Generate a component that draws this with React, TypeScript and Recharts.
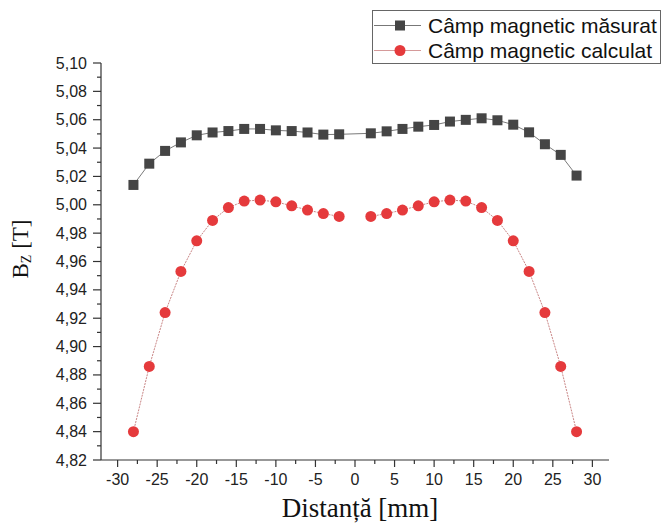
import React from 'react';
import { LineChart, Line, XAxis, YAxis, Legend } from 'recharts';

// distance along the axis, mm (no reading at 0)
const distances = [-28, -26, -24, -22, -20, -18, -16, -14, -12, -10, -8, -6, -4, -2, 2, 4, 6, 8, 10, 12, 14, 16, 18, 20, 22, 24, 26, 28];

// Bz, T
const measured = [
  5.014, 5.029, 5.038, 5.044, 5.049, 5.051, 5.052, 5.0535, 5.0535, 5.0525, 5.052, 5.051, 5.0495, 5.0497,
  5.0504, 5.0518, 5.0535, 5.0551, 5.0563, 5.0587, 5.0599, 5.061, 5.0596, 5.0565, 5.0511, 5.0427, 5.0352, 5.0206,
];
const calculated = [
  4.840, 4.886, 4.924, 4.953, 4.9746, 4.989, 4.998, 5.0026, 5.0033, 5.0021, 4.9993, 4.9963, 4.9938, 4.9918,
  4.9918, 4.9938, 4.9963, 4.9993, 5.0021, 5.0033, 5.0026, 4.998, 4.989, 4.9746, 4.953, 4.924, 4.886, 4.840,
];

const xMajor = [-30, -25, -20, -15, -10, -5, 0, 5, 10, 15, 20, 25, 30];
const yMajor = [4.82, 4.84, 4.86, 4.88, 4.9, 4.92, 4.94, 4.96, 4.98, 5.0, 5.02, 5.04, 5.06, 5.08, 5.1];

const withMinors = (major: number[]) => {
  const out: number[] = [];
  major.forEach((v, i) => {
    out.push(v);
    if (i < major.length - 1) out.push((v + major[i + 1]) / 2);
  });
  return out;
};
const xTicks = withMinors(xMajor);
const yTicks = withMinors(yMajor);

const isMajor = (list: number[], v: number) => list.some((m) => Math.abs(m - v) < 1e-6);

const measuredData = distances.map((d, i) => ({ x: d, y: measured[i] }));
// break the calculated curve across the centre
const calculatedData = [
  ...distances.filter((d) => d < 0).map((d) => ({ x: d, y: calculated[distances.indexOf(d)] })),
  { x: 0, y: null },
  ...distances.filter((d) => d > 0).map((d) => ({ x: d, y: calculated[distances.indexOf(d)] })),
];

const sans = '"Liberation Sans", Arial, sans-serif';
const serif = '"Liberation Serif", "Times New Roman", serif';
const AXIS = '#333';

const YTick = (props: any) => {
  const { x, y, payload } = props;
  const major = isMajor(yMajor, payload.value);
  return (
    <g>
      <line x1={x - (major ? 8 : 4)} x2={x} y1={y} y2={y} stroke={AXIS} strokeWidth={1.2} />
      {major && (
        <text x={x - 14} y={y + 5.5} textAnchor="end" fontFamily={sans} fontSize={16} fill="#222">
          {payload.value.toFixed(2).replace('.', ',')}
        </text>
      )}
    </g>
  );
};

const XTick = (props: any) => {
  const { x, y, payload } = props;
  const major = isMajor(xMajor, payload.value);
  return (
    <g>
      <line x1={x} x2={x} y1={y} y2={y + (major ? 7 : 4)} stroke={AXIS} strokeWidth={1.2} />
      {major && (
        <text x={x} y={y + 25} textAnchor="middle" fontFamily={sans} fontSize={16} fill="#222">
          {payload.value}
        </text>
      )}
    </g>
  );
};

const Square = (props: any) => {
  const { cx, cy, index } = props;
  if (cx == null || cy == null) return <g key={`sq-${index}`} />;
  return <rect key={`sq-${index}`} x={cx - 5} y={cy - 5} width={10} height={10} fill="#454545" />;
};

const Dot = (props: any) => {
  const { cx, cy, index } = props;
  if (cx == null || cy == null) return <g key={`dt-${index}`} />;
  return <circle key={`dt-${index}`} cx={cx} cy={cy} r={5.5} fill="#e53a3c" />;
};

const LegendBox = () => (
  <div
    style={{
      border: '1px solid #666',
      background: '#fff',
      width: 289,
      height: 54,
      boxSizing: 'border-box',
      paddingTop: 2,
      fontFamily: sans,
      fontSize: 21,
      color: '#111',
    }}
  >
    {[
      { label: 'Câmp magnetic măsurat', line: '#777', marker: <rect x={22} y={7.5} width={10} height={10} fill="#454545" /> },
      { label: 'Câmp magnetic calculat', line: '#d59a9a', marker: <circle cx={27} cy={12.5} r={5.5} fill="#e53a3c" /> },
    ].map((row) => (
      <div key={row.label} style={{ display: 'flex', alignItems: 'center', height: 25, lineHeight: '25px' }}>
        <svg width={55} height={25} style={{ flex: 'none' }}>
          <line x1={1} x2={48} y1={12.5} y2={12.5} stroke={row.line} strokeWidth={1} />
          {row.marker}
        </svg>
        <span style={{ whiteSpace: 'nowrap' }}>{row.label}</span>
      </div>
    ))}
  </div>
);

export default function App() {
  return (
    <div style={{ position: 'absolute', left: 0, top: 0, width: 662, height: 525, background: '#fff' }}>
      <LineChart width={662} height={525} margin={{ top: 63, right: 53, bottom: 0, left: 0 }}>
        <XAxis
          type="number"
          dataKey="x"
          domain={[-32.1, 32.1]}
          ticks={xTicks}
          interval={0}
          allowDataOverflow
          height={65}
          tickSize={0}
          tickMargin={0}
          tickLine={false}
          axisLine={{ stroke: AXIS, strokeWidth: 1.2 }}
          tick={<XTick />}
          label={{
            content: () => (
              <text x={360} y={517} textAnchor="middle" fontFamily={serif} fontSize={27} fill="#111">
                Distanță [mm]
              </text>
            ),
          }}
        />
        <YAxis
          type="number"
          domain={[4.82, 5.1]}
          ticks={yTicks}
          interval={0}
          allowDataOverflow
          width={101}
          tickSize={0}
          tickMargin={0}
          tickLine={false}
          axisLine={{ stroke: AXIS, strokeWidth: 1.2 }}
          tick={<YTick />}
          label={{
            content: () => (
              <text transform="translate(28,249) rotate(-90)" textAnchor="middle" fontFamily={serif} fontSize={23} fill="#111">
                B<tspan fontSize={14} dy={3}>Z</tspan>
                <tspan dy={-3}> [T]</tspan>
              </text>
            ),
          }}
        />
        <Legend
          layout="vertical"
          align="center"
          verticalAlign="middle"
          content={<LegendBox />}
          wrapperStyle={{ left: 372, top: 10, width: 289, height: 54 }}
        />
        <Line
          data={measuredData}
          dataKey="y"
          name="Câmp magnetic măsurat"
          type="linear"
          stroke="#7a7a7a"
          strokeWidth={1}
          dot={Square}
          activeDot={false}
          isAnimationActive={false}
        />
        <Line
          data={calculatedData}
          dataKey="y"
          name="Câmp magnetic calculat"
          type="linear"
          stroke="#c98585"
          strokeWidth={1}
          strokeDasharray="2 1"
          dot={Dot}
          activeDot={false}
          isAnimationActive={false}
        />
      </LineChart>
    </div>
  );
}
